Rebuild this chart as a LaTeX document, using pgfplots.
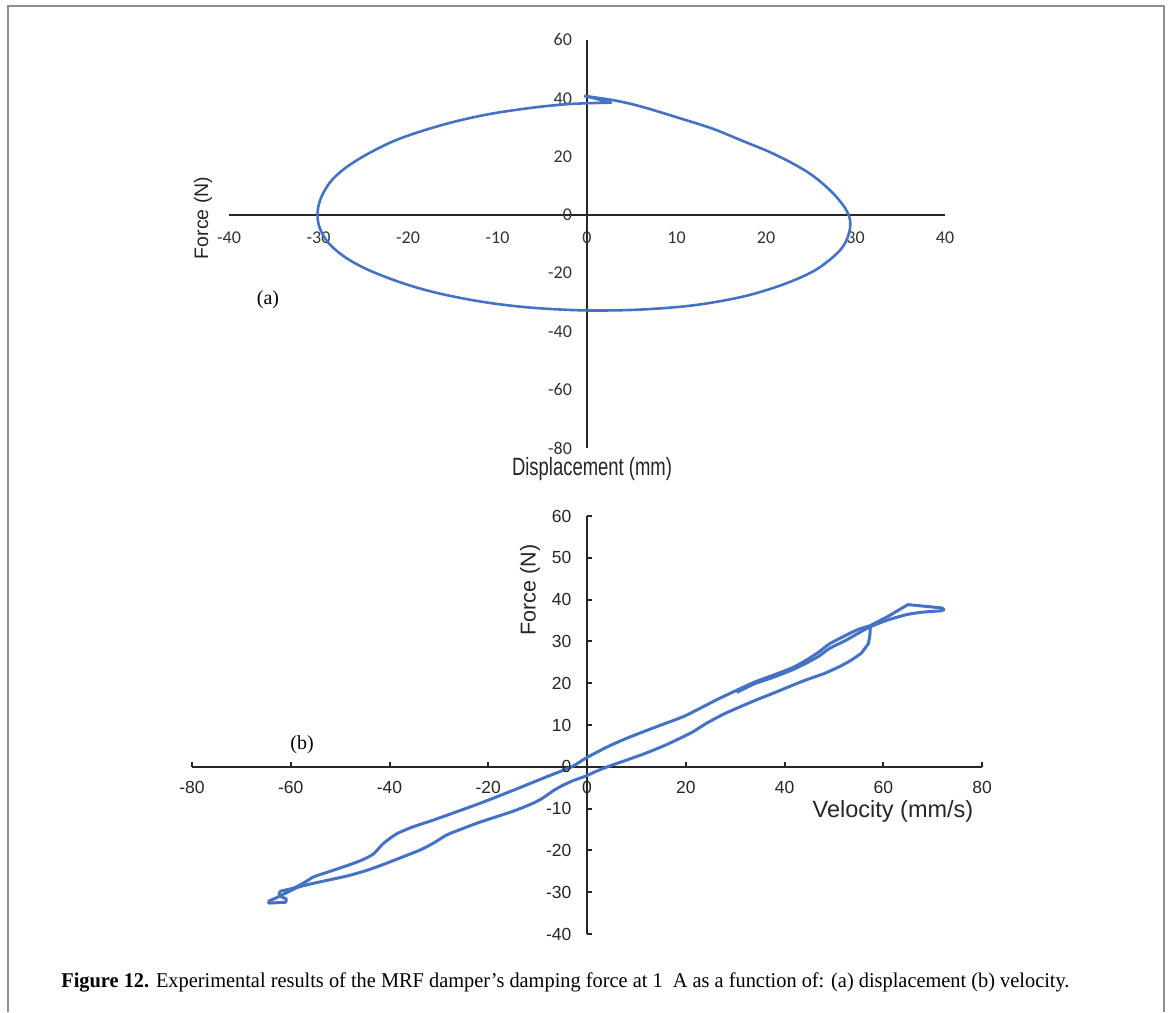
\documentclass[border=0pt]{standalone}
\usepackage{fontspec}
\usepackage{graphicx}
\usepackage{pgfplots}
\pgfplotsset{compat=1.18}
\setmainfont{Liberation Serif}
\newfontfamily\arial{Liberation Sans}
\newfontfamily\carlito{Carlito}
\definecolor{excelblue}{HTML}{4472C4}
\definecolor{framegray}{HTML}{8E8E8E}
\newcommand{\ticka}{\carlito\fontsize{9}{10}\selectfont}
\newcommand{\tickb}{\arial\fontsize{8.75}{9}\selectfont}

\begin{document}
\begin{tikzpicture}
\useasboundingbox (0,0) rectangle (585pt,506pt);
\fill[white] (0,0) rectangle (585pt,506pt);
\draw[framegray, line width=1pt] (3.75pt,0) -- (3.75pt,502.75pt) -- (582pt,502.75pt) -- (582pt,0);

% ---------------- (a) ----------------
\begin{axis}[
  at={(114.5pt,282pt)}, anchor=south west,
  scale only axis, width=358pt, height=204pt,
  xmin=-40, xmax=40, ymin=-80, ymax=60,
  axis lines=middle, axis line style={-, line width=1pt, black!85},
  xtick={-40,-30,...,40}, ytick={-80,-60,...,60},
  major tick length=0pt,
  /pgf/number format/assume math mode=true,
  ticklabel style={font=\ticka, text=black!80},
  xticklabel style={anchor=north, yshift=-5.2pt},
  yticklabel style={anchor=east, xshift=-4pt},
  clip=false,
]
\addplot[excelblue, line width=1.3pt, smooth, tension=0.55] coordinates {
(-0.3,40.8) (3,39.3) (6,37.2) (10.1,33.4) (14,29.6) (17.2,25.6) (20.3,21.7) (23,17.6)
(25.2,13.5) (27.3,8.0) (28.8,2.5) (29.4,-2) (29.2,-7.1) (28.2,-12.4) (25.6,-18.8)
(22,-23.8) (17.5,-28.0) (12,-31.0) (6,-32.5) (0,-32.8) (-5.6,-32.0) (-10,-30.6)
(-14,-28.6) (-17.8,-26.0) (-21.2,-22.8) (-24.5,-18.8) (-27,-14.6) (-28.9,-9.6)
(-29.9,-4.2) (-30.1,1) (-29.7,6) (-28.7,11.2) (-27.2,15.6) (-24.8,20.4) (-21.6,25.3)
(-18.2,29.0) (-14.5,32.2) (-10.5,34.8) (-6,36.8) (-2.5,37.9) (0,38.3)
};
\addplot[excelblue, line width=1.3pt, line join=round] coordinates {
(0,38.3) (2.7,38.5) (-0.3,40.8)
};
\node[font=\ticka, text=black!80, anchor=north, inner sep=0.333em, yshift=-5.2pt] at (axis cs:0,0) {0};
\node[font=\ticka, text=black!80, anchor=east, inner sep=0.333em, xshift=-4pt] at (axis cs:0,0) {0};
\end{axis}

% ---------------- (b) ----------------
\begin{axis}[
  at={(96pt,39pt)}, anchor=south west,
  scale only axis, width=395pt, height=209pt,
  xmin=-80, xmax=80, ymin=-40, ymax=60,
  axis lines=middle, axis line style={-, line width=1.1pt, black!85},
  xtick={-80,-60,...,80}, ytick={-40,-30,...,60},
  tick align=inside, major tick length=2.5pt,
  tick style={line width=1pt, black!85},
  /pgf/number format/assume math mode=true,
  ticklabel style={font=\tickb, text=black!85},
  xticklabel style={anchor=north, yshift=-3.9pt},
  yticklabel style={anchor=east, xshift=-4.3pt},
  clip=false,
]
\addplot[excelblue, line width=1.5pt, smooth, tension=0.4] coordinates {
(30.3,17.8) (34,19.9) (37.7,21.4) (41.6,23.2) (44.4,24.8) (47,26.5) (49.1,28.3)
(52.5,30.3) (55,32.0) (57.2,33.4) (60.6,35.0) (64.7,36.4) (68,37.0) (71.7,37.3)
};
\addplot[excelblue, line width=1.5pt, line join=round] coordinates {
(71.7,37.3) (72.3,37.6) (71.9,38.0) (65.0,38.8) (61,36.0) (57.4,33.8) (57.3,31.5)
(57.0,29.5) (55.6,27.2)
};
\addplot[excelblue, line width=1.5pt, smooth, tension=0.4] coordinates {
(55.6,27.2) (53.5,25.5) (51.2,24.0) (48,22.3) (44.4,20.8) (41,19.2) (37.7,17.6)
(34.3,16.0) (30.9,14.3) (27.5,12.5) (24.2,10.4) (21.5,8.4) (19.5,7.2) (16.1,5.3)
(12,3.3) (8.0,1.6) (4.6,0.2) (2,-1.0) (-0.2,-2.2) (-2.8,-3.3) (-5,-4.5) (-6.8,-5.7)
(-9,-7.5) (-10.9,-8.7) (-14.9,-10.6) (-21.6,-13.2) (-25,-14.7) (-28.4,-16.3)
(-31,-18.2) (-33.8,-19.9) (-38.5,-22.1) (-42,-23.7) (-45.2,-25.0) (-48.5,-26.1)
(-52.0,-27.0) (-55.5,-27.9) (-58.5,-28.8) (-61,-30.2) (-63.2,-31.5) (-64.6,-32.2)
};
\addplot[excelblue, line width=1.5pt, line join=round] coordinates {
(-64.6,-32.2) (-64.4,-32.6) (-61.0,-32.4) (-60.9,-31.6) (-62.3,-30.9) (-62.3,-29.8)
};
\addplot[excelblue, line width=1.5pt, smooth, tension=0.4] coordinates {
(-62.3,-29.8) (-59.4,-29.0) (-57.4,-27.8) (-55.3,-26.3) (-52.0,-25.0) (-47.3,-23.1)
(-45,-22.0) (-43.2,-20.8) (-41.2,-18.3) (-38.5,-16.0) (-35.1,-14.3) (-31.5,-12.9)
(-28.4,-11.6) (-21.6,-8.7) (-14.9,-5.6) (-8.2,-2.4) (-3.1,0) (-0.2,2.1) (4.0,4.7)
(8.0,6.8) (14.1,9.6) (19.5,12.0) (22.9,14.0) (26.2,16.0) (30.3,18.3) (34,20.3)
(37.7,21.9) (41.6,23.7) (44.4,25.5) (47,27.5) (49.1,29.4) (52.5,31.5) (55,32.9)
(57.2,33.7)
};
\node[font=\tickb, text=black!85, anchor=north, inner sep=0.333em, yshift=-3.9pt] at (axis cs:0,0) {0};
\node[font=\tickb, text=black!85, anchor=east, inner sep=0.333em, xshift=-4.3pt] at (axis cs:0,0) {0};
\end{axis}

% ---------------- labels ----------------
\node[rotate=90, font=\arial\fontsize{9.75}{10}\selectfont, text=black!85] at (101.5pt,397pt) {Force (N)};
\node[inner sep=0, text=black!85] at (296pt,271.3pt) {\resizebox{80pt}{\height}{\arial\fontsize{12.5}{13}\selectfont Displacement (mm)}};
\node[font=\fontsize{10}{12}\selectfont] at (134pt,356pt) {(a)};

\node[rotate=90, font=\arial\fontsize{10.75}{12}\selectfont, text=black!85] at (265pt,211pt) {Force (N)};
\node[font=\arial\fontsize{11.75}{12}\selectfont, text=black!85] at (446.5pt,100.5pt) {Velocity (mm/s)};
\node[font=\fontsize{10}{12}\selectfont] at (151pt,133.5pt) {(b)};

\node[anchor=base west, inner sep=0] at (30.5pt,12.5pt) {\resizebox{504pt}{\height}{\fontsize{10.5}{12}\selectfont\textbf{Figure 12.} Experimental results of the MRF damper’s damping force at 1\enspace A as a function of: (a) displacement (b) velocity.}};
\end{tikzpicture}
\end{document}
